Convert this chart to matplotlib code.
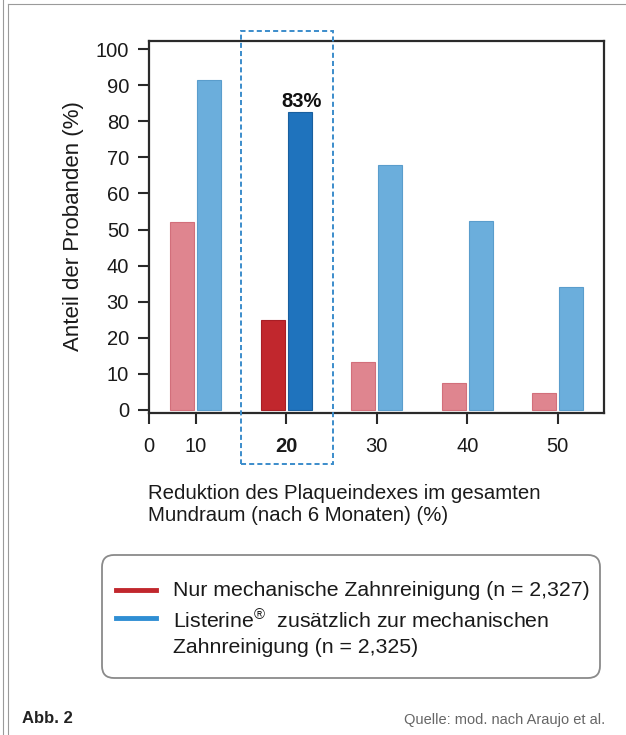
import matplotlib
matplotlib.use("Agg")
import matplotlib.pyplot as plt
from matplotlib import font_manager
from matplotlib.patches import Rectangle, FancyBboxPatch
from matplotlib.lines import Line2D
from matplotlib.transforms import Affine2D

# Daten
kategorien = ['10', '20', '30', '40', '50']
nur_mechanisch = [52, 25, 13.3, 7.5, 4.6]
mit_listerine = [91.5, 82.5, 68, 52.5, 34]
hervorgehoben = 1          # Kategorie "20"
beschriftung_hervor = '83%'
y_ticks = list(range(0, 101, 10))

legende_texte = [
    'Nur mechanische Zahnreinigung (n = 2,327)',
    'Listerine$^{®}$  zusätzlich zur mechanischen\nZahnreinigung (n = 2,325)',
]

W, H, DPI = 626, 735, 100

plt.rcParams['font.family'] = ['Liberation Sans', 'DejaVu Sans']
plt.rcParams['mathtext.fontset'] = 'custom'
plt.rcParams['mathtext.rm'] = 'Liberation Sans'
plt.rcParams['mathtext.it'] = 'Liberation Sans:italic'
plt.rcParams['mathtext.bf'] = 'Liberation Sans:bold'
namen = {f.name for f in font_manager.fontManager.ttflist}
schmal = 'Liberation Sans Narrow' if 'Liberation Sans Narrow' in namen else 'Liberation Sans'

fig = plt.figure(figsize=(W / DPI, H / DPI), dpi=DPI)
# Pixel-Koordinaten (Ursprung oben links)
pix = Affine2D().scale(1 / DPI, -1 / DPI).translate(0, H / DPI) + fig.dpi_scale_trans


def fx(px):
    return px / W


def fy(py):
    return 1 - py / H


ax = fig.add_axes([fx(148.5), fy(413), fx(604) - fx(148.5), fy(41) - fy(413)])

x = list(range(len(kategorien)))
breite = 0.265
versatz = 0.148
rot = ['#C1272D' if i == hervorgehoben else '#DF858F' for i in x]
rot_rand = ['#A81E25' if i == hervorgehoben else '#D26F7B' for i in x]
blau = ['#1F73BD' if i == hervorgehoben else '#6BAEDC' for i in x]
blau_rand = ['#195F9E' if i == hervorgehoben else '#5A9DCC' for i in x]

ax.bar([i - versatz for i in x], nur_mechanisch, breite, color=rot,
       edgecolor=rot_rand, linewidth=0.8, zorder=2)
ax.bar([i + versatz for i in x], mit_listerine, breite, color=blau,
       edgecolor=blau_rand, linewidth=0.8, zorder=2)

ax.text(hervorgehoben + versatz + 0.02, mit_listerine[hervorgehoben] + 1.6,
        beschriftung_hervor, ha='center', va='baseline', fontsize=14.5,
        fontweight='bold', color='#111111')

x_links = -0.52
ax.set_xlim(x_links, 4.51)
ax.set_ylim(-0.9, 102.3)
ax.set_xticks([x_links] + x)
ax.set_xticklabels(['0'] + kategorien)
ax.set_yticks(y_ticks)
ax.get_xticklabels()[hervorgehoben + 1].set_fontweight('bold')

for s in ax.spines.values():
    s.set_color('#2a2a2a')
    s.set_linewidth(1.6)
ax.tick_params(axis='both', length=8, width=1.5, color='#2a2a2a',
               labelsize=14.5, labelcolor='#1a1a1a', direction='out')
ax.tick_params(axis='y', pad=6)
ax.tick_params(axis='x', pad=9)

# gestrichelter Rahmen um die Kategorie 20
rahmen = Rectangle((0.5, -15.1), 1.02, 120.2, fill=False, edgecolor='#3B8CCB',
                   linewidth=1.4, linestyle=(0, (2.6, 1.6)), clip_on=False, zorder=3)
ax.add_patch(rahmen)

# Achsenbeschriftungen
fig.text(73, 226, 'Anteil der Probanden (%)', transform=pix, rotation=90,
         ha='center', va='center', fontsize=16, color='#1a1a1a')
fig.text(148, 484, 'Reduktion des Plaqueindexes im gesamten\nMundraum (nach 6 Monaten) (%)',
         transform=pix, ha='left', va='top', fontsize=14.7, linespacing=1.17,
         color='#1a1a1a')

# Legende
box = FancyBboxPatch((102, 555), 498, 123, boxstyle='round,pad=0,rounding_size=12',
                     transform=pix, facecolor='white', edgecolor='#8a8a8a',
                     linewidth=1.3)
fig.patches.append(box)
fig.lines.append(Line2D([116, 156], [590, 590], transform=pix, color='#C1272D',
                        linewidth=3.5))
fig.lines.append(Line2D([116, 156], [617.5, 617.5], transform=pix, color='#2F8ED3',
                        linewidth=3.5))
fig.text(173, 581, legende_texte[0], transform=pix, ha='left', va='top',
         fontsize=15.3, color='#1a1a1a')
fig.text(173, 609, legende_texte[1], transform=pix, ha='left', va='top',
         fontsize=15.3, linespacing=1.36, color='#1a1a1a')

# Rahmenlinien der Seite
grau = '#9a9a9a'
fig.lines.append(Line2D([2.5, 2.5], [0, H], transform=pix, color=grau, linewidth=0.8))
fig.lines.append(Line2D([7.5, 7.5], [4, H], transform=pix, color=grau, linewidth=0.8))
fig.lines.append(Line2D([7.5, W], [4, 4], transform=pix, color=grau, linewidth=0.8))

# Fußzeile
fig.text(22, 723, 'Abb. 2', transform=pix, ha='left', va='baseline',
         fontsize=12, fontweight='bold', family=schmal, color='#222222')
fig.text(605, 724, 'Quelle: mod. nach Araujo et al.', transform=pix, ha='right',
         va='baseline', fontsize=10.5, family=schmal, color='#666666')

fig.savefig('out.png', dpi=DPI)
